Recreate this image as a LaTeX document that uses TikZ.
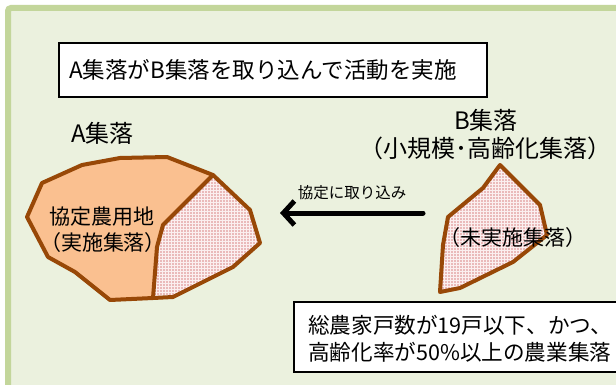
\documentclass[tikz,border=0pt]{standalone}
\usepackage{fontspec}
\setmainfont{Noto Sans CJK JP}
\usetikzlibrary{arrows.meta,patterns}
\definecolor{bgfill}{HTML}{EBF1DE}
\definecolor{bgline}{HTML}{C3D69B}
\definecolor{afill}{HTML}{FAC090}
\definecolor{brown}{HTML}{984807}
\definecolor{pinkbase}{HTML}{EABABA}
\definecolor{pinkline}{HTML}{FBEFEF}
\tikzset{
  lbl/.style={inner sep=0pt, font=\fontsize{21}{27}\selectfont},
  biglbl/.style={inner sep=0pt, font=\fontsize{24}{28}\selectfont},
  region/.style={draw=brown, line width=4pt, line join=round},
  hatch/.style={pattern=grid, pattern color=pinkline},
  boxed/.style={draw=black, line width=1.6pt, fill=white},
}
\begin{document}
\begin{tikzpicture}[x=1pt,y=-1pt]
\useasboundingbox (0,0) rectangle (616,385);
\clip (0,0) rectangle (616,385);
\fill[white] (0,0) rectangle (616,385);
% frame
\draw[bgline, fill=bgfill, line width=6pt, rounded corners=3pt] (8,8) rectangle (660,420);
% title
\draw[boxed] (59,43) rectangle (487,97);
\node[lbl, anchor=west, font=\fontsize{22.5}{26}\selectfont] (title) at (69,70) {A集落がB集落を取り込んで活動を実施};
% A region
\fill[afill] (27,217) -- (42,183) -- (82,165) -- (120,158) -- (167,157) -- (213,175) -- (250,210) -- (260,243) -- (233,267) -- (173,297) -- (153,298) -- (110,300) -- (75,272) -- (48,257) -- cycle;
\fill[pinkbase] (213,175) -- (250,210) -- (260,243) -- (233,267) -- (173,297) -- (153,298) -- (157,247) -- (163,225) -- cycle;
\fill[hatch] (213,175) -- (250,210) -- (260,243) -- (233,267) -- (173,297) -- (153,298) -- (157,247) -- (163,225) -- cycle;
\draw[region] (213,175) -- (163,225) -- (157,247) -- (153,298);
\draw[region] (27,217) -- (42,183) -- (82,165) -- (120,158) -- (167,157) -- (213,175) -- (250,210) -- (260,243) -- (233,267) -- (173,297) -- (153,298) -- (110,300) -- (75,272) -- (48,257) -- cycle;
% B region
\fill[pinkbase] (500,165) -- (540,205) -- (547,235) -- (513,262) -- (460,288) -- (440,292) -- (443,245) -- (448,217) -- (483,188) -- cycle;
\fill[hatch] (500,165) -- (540,205) -- (547,235) -- (513,262) -- (460,288) -- (440,292) -- (443,245) -- (448,217) -- (483,188) -- cycle;
\draw[region] (500,165) -- (540,205) -- (547,235) -- (513,262) -- (460,288) -- (440,292) -- (443,245) -- (448,217) -- (483,188) -- cycle;
% labels
\node[biglbl, anchor=west] (alabel) at (71,133) {A集落};
\node[biglbl] (blabel) at (486,120) {B集落};
\node[biglbl] (bsub) at (485,148) {（小規模･高齢化集落）};
\node[lbl] (agree) at (102,217) {協定農用地};
\node[lbl] (impl) at (103,243) {（実施集落）};
\node[lbl] (notimpl) at (513,238) {（未実施集落）};
% arrow
\coordinate (astart) at (423,213);
\coordinate (aend) at (280,213);
\draw[line width=5pt, line cap=round, -{Straight Barb[length=11pt,width=24pt]}] (astart) -- (aend);
\node[inner sep=0pt, font=\fontsize{15.5}{18}\selectfont] (arrowlbl) at (352,193) {協定に取り込み};
% bottom box
\draw[boxed] (294,302) rectangle (640,372);
\node[lbl, anchor=west, align=left, font=\fontsize{21.6}{27}\selectfont] (cond) at (308,338.5) {総農家戸数が19戸以下、かつ、\\高齢化率が50\%以上の農業集落};
\end{tikzpicture}
\end{document}
